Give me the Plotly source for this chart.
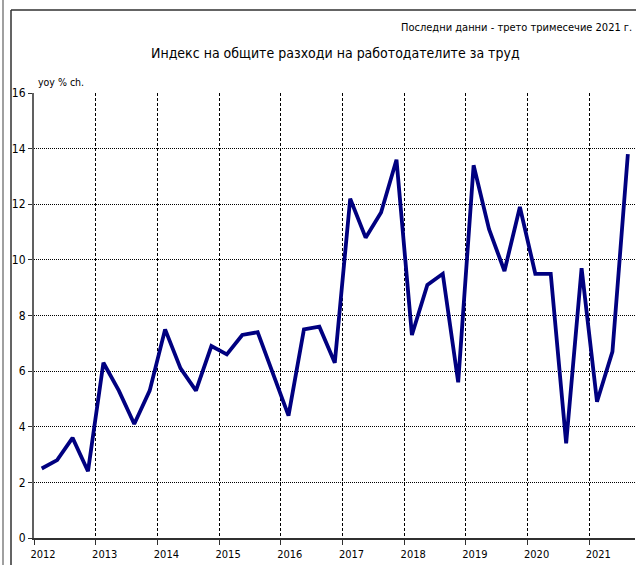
import plotly.graph_objs as go

# quarterly data, 2012 Q1 - 2021 Q3
years = list(range(2012, 2022))
quarters = [(y, q) for y in years for q in range(1, 5)][:39]
yoy = [
    2.5, 2.8, 3.6, 2.4,
    6.3, 5.3, 4.1, 5.3,
    7.5, 6.1, 5.3, 6.9,
    6.6, 7.3, 7.4, 5.9,
    4.4, 7.5, 7.6, 6.3,
    12.2, 10.8, 11.7, 13.6,
    7.3, 9.1, 9.5, 5.6,
    13.4, 11.1, 9.6, 11.9,
    9.5, 9.5, 3.4, 9.7,
    4.9, 6.7, 13.8,
]
x_vals = [y + (q - 1) / 4 + 0.125 for y, q in quarters]

title = "Индекс на общите разходи на работодателите за труд"
note = "Последни данни - трето тримесечие 2021 г."
unit = "yoy % ch."

FONT = "DejaVu Sans Condensed, Liberation Sans Narrow, DejaVu Sans, sans-serif"
W, H = 636, 565
L, R, T, B = 34, 635, 93, 538  # plot area in pixels


def px(x):
    return (x - L) / (R - L)


def py(y):
    return (B - y) / (B - T)


fig = go.Figure(go.Scatter(
    x=x_vals,
    y=yoy,
    mode="lines",
    line=dict(color="#000080", width=3.8),
    showlegend=False,
    hoverinfo="x+y",
))

# frame lines around the chart
frame = [
    dict(x0=px(3), x1=px(3), y0=py(0), y1=py(H), color="#a0a0a0", width=2),
    dict(x0=px(11), x1=px(11), y0=py(10), y1=py(H), color="#303030", width=1.5),
    dict(x0=px(11), x1=px(W), y0=py(10), y1=py(10), color="#303030", width=1.5),
]
shapes = [
    dict(type="line", xref="paper", yref="paper", x0=f["x0"], x1=f["x1"],
         y0=f["y0"], y1=f["y1"], line=dict(color=f["color"], width=f["width"]))
    for f in frame
]

fig.update_layout(
    width=W,
    height=H,
    margin=dict(l=L, r=W - R, t=T, b=H - B),
    paper_bgcolor="white",
    plot_bgcolor="white",
    font=dict(family=FONT, size=12, color="black"),
    shapes=shapes,
    annotations=[
        dict(text=title, xref="paper", yref="paper", x=px(335), y=py(53),
             xanchor="center", yanchor="middle", showarrow=False,
             font=dict(size=14, family=FONT)),
        dict(text=note, xref="paper", yref="paper", x=px(634), y=py(27),
             xanchor="right", yanchor="middle", showarrow=False,
             font=dict(size=11, family=FONT)),
        dict(text=unit, xref="paper", yref="paper", x=px(36), y=py(82),
             xanchor="left", yanchor="middle", showarrow=False,
             font=dict(size=10.5, family=FONT)),
    ],
    xaxis=dict(
        range=[2012, 2012 + (R - L) / 61.7],
        tickvals=years,
        ticktext=[str(y) for y in years],
        ticks="outside",
        ticklen=5,
        tickcolor="#303030",
        ticklabelshift=9,
        showgrid=True,
        gridcolor="black",
        griddash="3px,2px",
        gridwidth=1,
        showline=True,
        linecolor="#303030",
        linewidth=2,
        zeroline=False,
        automargin=False,
        tickfont=dict(size=11, family=FONT),
    ),
    yaxis=dict(
        range=[0, 16],
        tickvals=list(range(0, 17, 2)),
        ticks="outside",
        ticklen=4,
        tickcolor="#303030",
        showgrid=True,
        gridcolor="black",
        griddash="1px,1px",
        gridwidth=1,
        showline=True,
        linecolor="#606060",
        linewidth=2,
        zeroline=False,
        automargin=False,
        tickfont=dict(size=12, family=FONT),
    ),
)

# the page's default body margin would shift the chart by 8px
fig.write_html("out.html", config={"displayModeBar": False},
               post_script="document.body.style.margin='0';")
